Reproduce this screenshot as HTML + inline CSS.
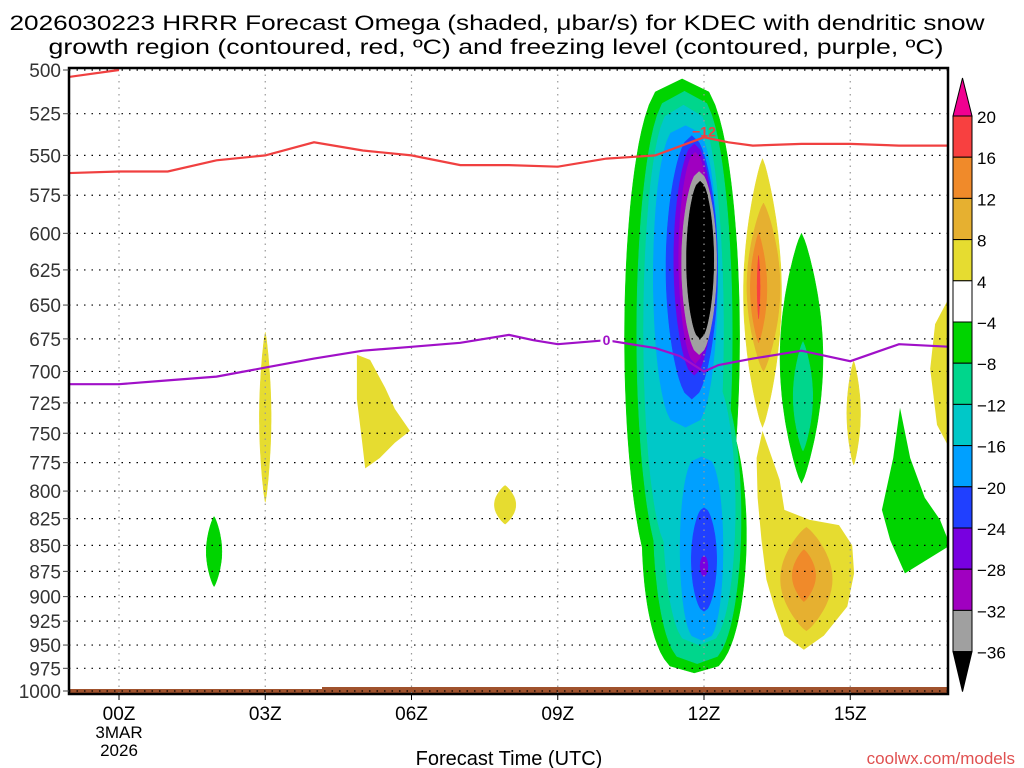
<!DOCTYPE html>
<html><head><meta charset="utf-8">
<style>
html,body{margin:0;padding:0;background:#fff;}
svg{display:block;font-family:"Liberation Sans",sans-serif;}
</style></head>
<body>
<svg id="chart" width="1024" height="768" viewBox="0 0 1024 768" xmlns="http://www.w3.org/2000/svg">
<defs><clipPath id="plotclip"><rect x="69" y="68" width="879" height="626"/></clipPath></defs>
<text x="497" y="30" font-size="21" text-anchor="middle" textLength="975" lengthAdjust="spacingAndGlyphs">2026030223 HRRR Forecast Omega (shaded, μbar/s) for KDEC with dendritic snow</text>
<text x="496" y="54" font-size="21" text-anchor="middle" textLength="895" lengthAdjust="spacingAndGlyphs">growth region (contoured, red, ºC) and freezing level (contoured, purple, ºC)</text>
<g id="shades" clip-path="url(#plotclip)"></g>
<g id="grid"></g>
<g id="lines" clip-path="url(#plotclip)"></g>
<g id="axes"></g>
<g id="cbar"></g>
<text x="509" y="765" font-size="20" text-anchor="middle">Forecast Time (UTC)</text>
<text x="1015" y="764" font-size="17" text-anchor="end" fill="#e05050">coolwx.com/models</text>
</svg>
<script>
// ---- data ----
const pressureTicks = [500,525,550,575,600,625,650,675,700,725,750,775,800,825,850,875,900,925,950,975,1000];
const timeTickHours = [0,3,6,9,12,15];
const timeTickLabels = ["00Z","03Z","06Z","09Z","12Z","15Z"];
const cbarLevels = ["20","16","12","8","4","\u22124","\u22128","\u221212","\u221216","\u221220","\u221224","\u221228","\u221232","\u221236"];
const cbarColors = ["#f84040","#f08a2a","#e6b030","#e6dc30","#ffffff","#00d400","#00d68c","#00c8c8","#00a0ff","#2040ff","#7800e0","#a000c0","#a0a0a0"];
// red -12C line
const redHours = [-1.05,0,1,2,3,4,5,6,7,8,9,10,11,12,12.5,13,14,15,16,17.05];
const redPress = [561,560,560,553,550,542,547,550,556,556,557,552,550,539,542,544,543,543,544,544];
const redUpperHours = [-1.05,0];
const redUpperPress = [504,500];
// purple 0C line
const purpleHours = [-1.05,0,1,2,3,4,5,6,7,8,8.5,9,10,11,11.5,12,12.3,13,14,15,16,17.05];
const purplePress = [710,710,707,704,697,690,684,681,678,672,676,679,676,682,688,700,695,690,684,692,679,681];
// lens/ellipse features: [centerHour, topPressure, bottomPressure, halfWidthHours, level]
const features = [
 [11.55,505,900,1.18,-4],[11.8,720,980,1.07,-4],
 [11.6,512,880,0.98,-8],[11.86,700,970,0.9,-8],
 [11.58,520,860,0.82,-12],[11.9,700,950,0.74,-12],
 [11.62,532,745,0.66,-16],[11.95,770,945,0.44,-16],
 [11.75,538,722,0.53,-20],[12.0,815,915,0.26,-20],
 [11.8,543,703,0.42,-24],[12.0,860,880,0.08,-24],
 [11.82,548,694,0.34,-28],
 [11.9,560,687,0.36,-32],
 [11.92,566,675,0.28,-36],
 [13.2,552,745,0.39,4],[13.22,580,700,0.34,8],[13.12,600,678,0.17,12],[13.12,615,660,0.03,16],
 [14.1,833,935,0.53,8],[14.05,854,905,0.24,12],
 [14.0,600,793,0.44,-4],[14.03,677,765,0.2,-8],
 [15.07,692,777,0.14,4],
 [3.0,670,810,0.12,4],
 [7.92,795,830,0.22,4],
 [1.95,823,890,0.16,-4]
];
// polygon features
const polyBHours = [13.2,13.55,13.65,14.16,14.77,15.04,15.08,14.94,14.46,14.05,13.65,13.44,13.28,13.18,13.1,13.08];
const polyBPress = [748,790,817,826,831,850,877,910,940,955,940,910,883,845,806,771];
const poly5Hours = [4.88,5.15,5.46,5.66,5.97,5.66,5.35,5.05,4.98,4.88];
const poly5Press = [687,691,713,730,748,758,771,780,755,722];
const poly16Hours = [16.02,16.23,16.53,16.84,17.05,16.12,15.82,15.65,15.88];
const poly16Press = [729,771,806,826,850,877,845,817,771];
const poly17Hours = [17.05,16.74,16.64,16.78,17.05];
const poly17Press = [643,664,698,743,764];

// ---- scales ----
const X0=119, PXH=48.75, Y0=70, PLOT_H=621;
function xs(h){return X0+PXH*h;}
function ys(p){return Y0+PLOT_H*Math.log(p/500)/Math.log(2);}
function colorFor(level){
  const map={16:0,12:1,8:2,4:3,"-4":5,"-8":6,"-12":7,"-16":8,"-20":9,"-24":10,"-28":11,"-32":12};
  if(level===-36) return "#000";
  return cbarColors[map[level]];
}
const NS="http://www.w3.org/2000/svg";
function mk(tag,attrs,parent){const e=document.createElementNS(NS,tag);for(const k in attrs)e.setAttribute(k,attrs[k]);parent.appendChild(e);return e;}

const shades=document.getElementById('shades');
const order=[-4,-8,-12,-16,-20,-24,-28,-32,-36,4,8,12,16];
function lensPath(f){
  const [tc,pt,pb,hw,lv]=f; const yt=ys(pt), yb=ys(pb); const pts=[];const N=40;
  let pow=0.8;
  if(lv<0 && tc>11 && tc<12.5){ pow = (lv>=-16) ? 0.3 : 0.5; }
  for(let i=0;i<=N;i++){const s=i/N;const y=yt+s*(yb-yt);pts.push([xs(tc)+PXH*hw*Math.pow(Math.sin(Math.PI*s),pow),y]);}
  for(let i=N;i>=0;i--){const s=i/N;const y=yt+s*(yb-yt);pts.push([xs(tc)-PXH*hw*Math.pow(Math.sin(Math.PI*s),pow),y]);}
  return "M"+pts.map(p=>p[0].toFixed(1)+","+p[1].toFixed(1)).join("L")+"Z";
}
function polyPath(hs,ps){return "M"+hs.map((h,i)=>xs(h).toFixed(1)+","+ys(ps[i]).toFixed(1)).join("L")+"Z";}
const polys=[[polyBHours,polyBPress,4],[poly5Hours,poly5Press,4],[poly16Hours,poly16Press,-4],[poly17Hours,poly17Press,4]];
order.forEach(lv=>{
  polys.forEach(pp=>{ if(pp[2]===lv){
    const el=mk('path',{d:polyPath(pp[0],pp[1]),fill:colorFor(lv)},shades);
    
    
  }});
  features.forEach(f=>{ if(f[4]===lv){
    const el=mk('path',{d:lensPath(f),fill:colorFor(lv),stroke:colorFor(lv),'stroke-width':0.5},shades);
    
    
  }});
});
const g1=mk('path',{d:"M69,689 L322,689 L322,687 L948,687 L948,694 L69,694 Z",fill:"#a0522d"},shades);



const grid=document.getElementById('grid');
pressureTicks.forEach(p=>{
  const l=mk('line',{x1:69,x2:948,y1:ys(p),y2:ys(p),stroke:"#000","stroke-width":1.2,"stroke-dasharray":"1.5 6"},grid);
  
  
});
timeTickHours.forEach(h=>{
  const l=mk('line',{x1:xs(h),x2:xs(h),y1:68,y2:694,stroke:"#999","stroke-width":1.2,"stroke-dasharray":"1.5 5"},grid);
  
  
});

const lines=document.getElementById('lines');
function linePath(hs,ps){return "M"+hs.map((h,i)=>xs(h).toFixed(1)+","+ys(ps[i]).toFixed(1)).join("L");}
let e;
e=mk('path',{d:linePath(redHours,redPress),fill:"none",stroke:"#f04040","stroke-width":2.2},lines);


e=mk('path',{d:linePath(redUpperHours,redUpperPress),fill:"none",stroke:"#f04040","stroke-width":2.2},lines);


e=mk('path',{d:linePath(purpleHours,purplePress),fill:"none",stroke:"#a010c8","stroke-width":2.2},lines);


e=mk('text',{x:xs(12),y:ys(539)-1,"font-size":14,"font-weight":"bold",fill:"#f04040","text-anchor":"middle"},lines);
e.textContent="\u221212";


mk('rect',{x:xs(10)-6,y:ys(676)-8,width:12,height:14,fill:"#fff"},lines);
e=mk('text',{x:xs(10),y:ys(676)+5,"font-size":14,"font-weight":"bold",fill:"#a010c8","text-anchor":"middle"},lines);
e.textContent="0";



const axes=document.getElementById('axes');
e=mk('rect',{x:69,y:68,width:879,height:626,fill:"none",stroke:"#000","stroke-width":2.5},axes);


pressureTicks.forEach(p=>{
  mk('line',{x1:63,x2:69,y1:ys(p),y2:ys(p),stroke:"#444","stroke-width":1},axes);
  const t=mk('text',{x:61,y:ys(p)+7,"font-size":19,"text-anchor":"end",fill:"#333"},axes);
  t.textContent=p;
  
  
});
timeTickHours.forEach((h,i)=>{
  mk('line',{x1:xs(h),x2:xs(h),y1:694,y2:700,stroke:"#000","stroke-width":1},axes);
  const t=mk('text',{x:xs(h),y:720,"font-size":19,"text-anchor":"middle"},axes);
  t.textContent=timeTickLabels[i];
  
  
});
e=mk('text',{x:xs(0),y:738,"font-size":17,"text-anchor":"middle"},axes);e.textContent="3MAR";


e=mk('text',{x:xs(0),y:756,"font-size":17,"text-anchor":"middle"},axes);e.textContent="2026";



const cb=document.getElementById('cbar');
const CB_X=953, CB_W=19, CB_TOP=116, CB_STEP=41.2;
e=mk('path',{d:`M${CB_X},${CB_TOP} L${CB_X+CB_W/2},78 L${CB_X+CB_W},${CB_TOP} Z`,fill:"#f00090",stroke:"#000","stroke-width":1},cb);


cbarColors.forEach((c,i)=>{
  const r=mk('rect',{x:CB_X,y:CB_TOP+i*CB_STEP,width:CB_W,height:CB_STEP,fill:c,stroke:"#000","stroke-width":1},cb);
  
  
});
const cbBot=CB_TOP+cbarColors.length*CB_STEP;
e=mk('path',{d:`M${CB_X},${cbBot} L${CB_X+CB_W/2},${cbBot+40} L${CB_X+CB_W},${cbBot} Z`,fill:"#000",stroke:"#000","stroke-width":1},cb);


cbarLevels.forEach((l,i)=>{
  const t=mk('text',{x:CB_X+CB_W+5,y:CB_TOP+i*CB_STEP+7,"font-size":17},cb);
  t.textContent=l;
  
  
});
</script>
</body></html>
